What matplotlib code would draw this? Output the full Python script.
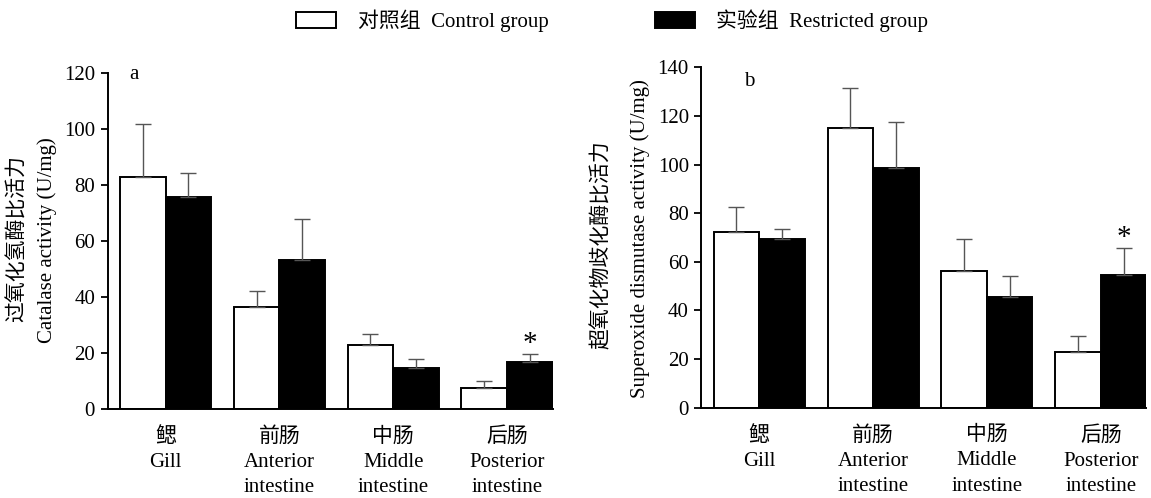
import numpy as np
import matplotlib
matplotlib.use("Agg")
import matplotlib.pyplot as plt

plt.rcParams['font.family'] = ['Liberation Serif', 'Noto Sans CJK SC']
plt.rcParams['font.size'] = 15

# ---------------- data ----------------
tissues = ["鳃\nGill", "前肠\nAnterior\nintestine", "中肠\nMiddle\nintestine", "后肠\nPosterior\nintestine"]

cat_ctrl = [83.0, 36.5, 22.7, 7.6]
cat_ctrl_sd = [18.8, 5.7, 4.2, 2.4]
cat_restr = [75.7, 53.2, 14.5, 16.7]
cat_restr_sd = [8.6, 14.5, 3.4, 2.9]
cat_sig = [False, False, False, True]

sod_ctrl = [72.4, 115.1, 56.4, 22.9]
sod_ctrl_sd = [10.0, 16.3, 13.1, 6.7]
sod_restr = [69.3, 98.6, 45.4, 54.5]
sod_restr_sd = [4.4, 18.8, 8.6, 11.1]
sod_sig = [False, False, False, True]

legend_labels = ["对照组  Control group", "实验组  Restricted group"]

FW, FH = 1151, 498
fig = plt.figure(figsize=(FW / 100, FH / 100), dpi=100)


def px_axes(x0, x1, ytop, ybot):
    return fig.add_axes([x0 / FW, 1 - ybot / FH, (x1 - x0) / FW, (ybot - ytop) / FH])


ax1 = px_axes(107.6, 552.5, 73, 409)
ax2 = px_axes(701.3, 1146.3, 67.3, 407.7)

W = 0.4
err_kw = dict(ecolor="#555555", elinewidth=1.0, capsize=6, capthick=1.0)


def draw(ax, ctrl, csd, restr, rsd, sig, ymax, letter, lx, ly):
    x = np.arange(len(ctrl))
    z = np.zeros(len(ctrl))
    ax.bar(x - W/2, ctrl, W, color="white", edgecolor="black", linewidth=1.4,
           yerr=[z, csd], error_kw=err_kw, label=legend_labels[0], zorder=2)
    ax.bar(x + W/2, restr, W, color="black", edgecolor="black", linewidth=1.4,
           yerr=[z, rsd], error_kw=err_kw, label=legend_labels[1], zorder=2)
    for i, s in enumerate(sig):
        if s:
            ax.annotate("*", (x[i] + W/2, restr[i] + rsd[i]), xytext=(0, 2.5),
                        textcoords="offset points", ha="center", va="baseline",
                        fontsize=21)
    ax.set_xlim(-W - 0.109, len(ctrl) - 1 + W)
    ax.set_ylim(0, ymax)
    ax.set_yticks(np.arange(0, ymax + 1, 20))
    ax.set_xticks(x)
    ax.set_xticklabels(tissues, linespacing=1.45)
    ax.tick_params(axis="x", length=0, pad=13)
    ax.tick_params(axis="y", direction="out", length=5, width=1.3, pad=4)
    for sp in ["top", "right"]:
        ax.spines[sp].set_visible(False)
    for sp in ["left", "bottom"]:
        ax.spines[sp].set_linewidth(1.4)
    ax.text(lx, ly, letter, transform=ax.transAxes, ha="center", va="center")


draw(ax1, cat_ctrl, cat_ctrl_sd, cat_restr, cat_restr_sd, cat_sig, 120, "a", 0.06, 0.995)
draw(ax2, sod_ctrl, sod_ctrl_sd, sod_restr, sod_restr_sd, sod_sig, 140, "b", 0.108, 0.957)

fig.text(18 / FW, 1 - 238 / FH, "过氧化氢酶比活力", rotation=90, ha="center", va="center")
fig.text(47 / FW, 1 - 240 / FH, "Catalase activity (U/mg)", rotation=90, ha="center", va="center")
fig.text(602 / FW, 1 - 245 / FH, "超氧化物歧化酶比活力", rotation=90, ha="center", va="center")
fig.text(640 / FW, 1 - 239 / FH, "Superoxide dismutase activity (U/mg)", rotation=90, ha="center", va="center")

handles, labels = ax1.get_legend_handles_labels()
fig.legend(handles, labels, loc="center", bbox_to_anchor=(612 / FW, 1 - 21 / FH), ncol=2,
           frameon=False, handlelength=1.92, handleheight=0.82, handletextpad=1.05,
           columnspacing=5.1, borderpad=0, borderaxespad=0)

fig.savefig("out.png", dpi=100)
